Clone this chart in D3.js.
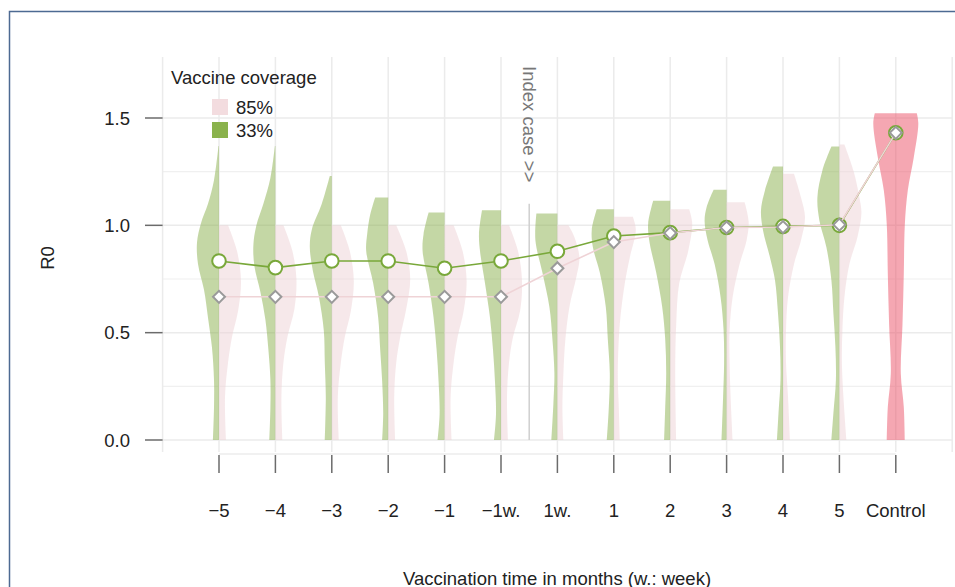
<!DOCTYPE html>
<html>
<head>
<meta charset="utf-8">
<script src="https://cdn.jsdelivr.net/npm/d3@7"></script>
<style>
  html, body { margin: 0; padding: 0; background: #fff; }
  svg text { font-family: "Liberation Sans", Arial, Helvetica, sans-serif; }
</style>
</head>
<body>
<svg id="chart" width="955" height="587"></svg>
<script>
// ---------------- DATA ----------------
const categories = ["\u22125","\u22124","\u22123","\u22122","\u22121","\u22121w.","1w.","1","2","3","4","5","Control"];
const seriesNames = ["85%", "33%"];
const mean33 = [0.834, 0.803, 0.834, 0.834, 0.800, 0.834, 0.879, 0.950, 0.966, 0.990, 0.995, 1.000, 1.431];
const mean85 = [0.667, 0.667, 0.667, 0.667, 0.667, 0.667, 0.800, 0.922, 0.964, 0.990, 0.992, 1.003, 1.431];
const yTicks = [0, 0.5, 1.0, 1.5];
const yMinor = [0.25, 0.75, 1.25];

// violin profiles: [R0, relative density] from top to bottom
const violin33 = [
  [[1.37,0.5],[1.21,5],[1.10,11],[1.01,18],[0.92,22],[0.82,21],[0.70,15],[0.57,11],[0.43,7],[0.28,5],[0.15,5],[0,6]],
  [[1.37,0.5],[1.22,5],[1.10,12],[1.00,19],[0.91,22],[0.81,21],[0.69,15],[0.56,10],[0.42,7],[0.28,5],[0.15,5],[0,6]],
  [[1.23,2],[1.10,10],[0.98,20],[0.90,22],[0.79,19],[0.67,13],[0.51,8],[0.36,7],[0.20,6],[0,7]],
  [[1.13,13],[1.05,18],[0.96,21],[0.88,22],[0.73,15],[0.57,10],[0.42,8],[0.27,6],[0.12,5],[0,6]],
  [[1.06,16],[0.96,21],[0.88,22],[0.73,16],[0.57,11],[0.42,8],[0.27,6],[0.12,5],[0,7]],
  [[1.07,19],[0.96,22],[0.88,21],[0.73,16],[0.57,11],[0.42,8],[0.27,6],[0.12,5],[0,7]],
  [[1.055,21],[0.93,22],[0.78,15],[0.62,8],[0.47,5],[0.31,3],[0.17,4],[0,6]],
  [[1.075,17],[0.98,22],[0.90,21],[0.78,14],[0.62,8],[0.47,6],[0.31,4],[0.15,5],[0,7]],
  [[1.115,17],[1.01,22],[0.93,21],[0.78,14],[0.62,8],[0.47,5],[0.31,4],[0.15,5],[0,6]],
  [[1.166,13],[1.084,20],[1.02,22],[0.93,19],[0.82,12],[0.665,6],[0.51,3],[0.36,2.5],[0.2,3.5],[0,5]],
  [[1.274,10],[1.163,18],[1.07,22],[0.977,20],[0.85,13],[0.744,8],[0.59,5],[0.433,3],[0.28,2.5],[0.125,4.5],[0,6]],
  [[1.367,8],[1.256,17],[1.13,22],[1.023,20],[0.898,13],[0.744,8],[0.59,6],[0.433,4],[0.28,3.5],[0.125,6],[0,8]]
];
const violin85 = [
  [[1.0,9],[0.88,18],[0.74,22],[0.60,19],[0.48,13],[0.36,9],[0.20,6],[0,7]],
  [[1.0,8],[0.88,17],[0.75,21],[0.61,19],[0.48,12],[0.36,8],[0.20,6],[0,7]],
  [[1.0,9],[0.88,18],[0.74,22],[0.60,19],[0.48,13],[0.36,9],[0.20,6],[0,7]],
  [[1.0,8],[0.88,18],[0.75,22],[0.61,18],[0.48,12],[0.36,8],[0.20,6],[0,7]],
  [[1.0,9],[0.88,18],[0.74,22],[0.60,19],[0.48,13],[0.36,9],[0.20,6],[0,7]],
  [[1.0,8],[0.88,17],[0.74,21],[0.60,19],[0.48,12],[0.36,8],[0.20,6],[0,7]],
  [[1.0,11],[0.945,17],[0.85,22],[0.76,19],[0.62,12],[0.47,8],[0.31,6],[0.15,5],[0,6]],
  [[1.04,19],[0.98,22],[0.85,16],[0.73,11],[0.54,6],[0.31,4],[0.15,5],[0,6]],
  [[1.075,19],[1.01,22],[0.88,18],[0.73,9],[0.54,6],[0.31,5],[0,6]],
  [[1.108,18],[1.02,22],[0.93,20],[0.82,13],[0.665,6],[0.51,3],[0.36,3],[0.2,4],[0,6]],
  [[1.24,11],[1.13,18],[1.037,22],[0.93,18],[0.82,11],[0.665,5],[0.51,3],[0.36,3],[0.2,5],[0,7]],
  [[1.377,5],[1.256,14],[1.13,20],[1.056,22],[0.945,18],[0.82,10],[0.665,5],[0.51,3],[0.36,2.5],[0.2,4],[0,7]]
];
const violinControl = [[1.522,21],[1.475,22.5],[1.317,18],[1.163,12],[1.0,9],[0.776,8],[0.54,6.7],[0.31,5],[0.153,8],[0,9]];

const indexCase = { label: "Index case >>", top: 1.10 };

// ---------------- LAYOUT ----------------
const svg = d3.select("#chart");
const panel = { left: 162.6, right: 952.2, top: 57, bottom: 452 };
const FS = 18.5;

const x = d3.scalePoint().domain(categories).range([panel.left, panel.right]).padding(1);
const y = d3.scaleLinear().domain([0, 1.5]).range([440, 118]);
const w = d3.scaleLinear().domain([0, 22]).range([0, 22]);

const col = {
  green: "#79a83a", greenFill: "#89b04b", pinkFill: "#eed1d5",
  pinkLine: "#efd3d6", control: "#eb4f65", grid: "#ebebeb", gridMinor: "#f0f0f0"
};

// frame
svg.append("rect").attr("x", 9.5).attr("y", 11.5).attr("width", 1000).attr("height", 700)
  .attr("fill", "none").attr("stroke", "#4d6a92").attr("stroke-width", 1.5);

// grid
const g = svg.append("g");
g.selectAll(".hmin").data(yMinor).join("line")
  .attr("x1", panel.left).attr("x2", panel.right)
  .attr("y1", d => y(d)).attr("y2", d => y(d))
  .attr("stroke", col.gridMinor).attr("stroke-width", 1.2);
g.selectAll(".hmaj").data(yTicks).join("line")
  .attr("x1", panel.left).attr("x2", panel.right)
  .attr("y1", d => y(d)).attr("y2", d => y(d))
  .attr("stroke", col.grid).attr("stroke-width", 1.5);
const vPos = [panel.left].concat(categories.map(c => x(c))).concat([panel.right]);
g.selectAll(".v").data(vPos).join("line")
  .attr("x1", d => d).attr("x2", d => d)
  .attr("y1", panel.top).attr("y2", panel.bottom)
  .attr("stroke", col.grid).attr("stroke-width", 1.5);

// index case marker
const icx = (x(categories[5]) + x(categories[6])) / 2;
svg.append("line").attr("x1", icx).attr("x2", icx)
  .attr("y1", y(indexCase.top)).attr("y2", y(0))
  .attr("stroke", "#cfcfcf").attr("stroke-width", 1.5);
svg.append("text")
  .attr("transform", `translate(${icx - 1},66) rotate(90)`)
  .attr("dominant-baseline", "middle")
  .attr("font-size", FS).attr("fill", "#777")
  .text(indexCase.label);

// violins
const curve = d3.curveCatmullRom.alpha(0.5);
function halfArea(cx, dir) {
  return d3.area().curve(curve)
    .y(d => y(d[0]))
    .x0(cx)
    .x1(d => cx + dir * w(d[1]));
}
const vg = svg.append("g");
violin33.forEach((prof, i) => {
  const cx = x(categories[i]);
  vg.append("path").attr("d", halfArea(cx, -1)(prof))
    .attr("fill", col.greenFill).attr("fill-opacity", 0.5);
});
violin85.forEach((prof, i) => {
  const cx = x(categories[i]);
  vg.append("path").attr("d", halfArea(cx, 1)(prof))
    .attr("fill", col.pinkFill).attr("fill-opacity", 0.5);
});
{
  const cx = x("Control");
  const area = d3.area().curve(curve)
    .y(d => y(d[0]))
    .x0(d => cx - w(d[1]))
    .x1(d => cx + w(d[1]));
  vg.append("path").attr("d", area(violinControl))
    .attr("fill", col.control).attr("fill-opacity", 0.5);
}

// mean lines
const line = d3.line().x((d, i) => x(categories[i])).y(d => y(d));
svg.append("path").attr("d", line(mean33)).attr("fill", "none")
  .attr("stroke", col.green).attr("stroke-width", 1.6);
svg.selectAll(".c33").data(mean33).join("circle")
  .attr("cx", (d, i) => x(categories[i])).attr("cy", d => y(d)).attr("r", 6.8)
  .attr("fill", "#fff").attr("stroke", col.green).attr("stroke-width", 2);

svg.append("path").attr("d", line(mean85)).attr("fill", "none")
  .attr("stroke", col.pinkLine).attr("stroke-width", 1.6);
const diamond = d3.symbol().type(d3.symbolSquare).size(72);
svg.selectAll(".d85").data(mean85).join("path")
  .attr("d", diamond())
  .attr("transform", (d, i) => `translate(${x(categories[i])},${y(d)}) rotate(45)`)
  .attr("fill", "#fff").attr("stroke", "#9a9a9a").attr("stroke-width", 2);

// y axis
const ya = svg.append("g");
ya.selectAll("line").data(yTicks).join("line")
  .attr("x1", 145).attr("x2", panel.left).attr("y1", d => y(d)).attr("y2", d => y(d))
  .attr("stroke", "#6b6b6b").attr("stroke-width", 1.5);
ya.selectAll("text").data(yTicks).join("text")
  .attr("x", 130).attr("y", d => y(d)).attr("text-anchor", "end")
  .attr("dominant-baseline", "central").attr("font-size", FS).attr("fill", "#222")
  .text(d => d3.format(".1f")(d));
svg.append("text").attr("transform", "translate(47,258) rotate(-90)")
  .attr("text-anchor", "middle").attr("dominant-baseline", "central")
  .attr("font-size", FS).attr("fill", "#222").text("R0");

// x axis
const xa = svg.append("g");
xa.append("line").attr("x1", x(categories[0])).attr("x2", x("Control"))
  .attr("y1", 454).attr("y2", 454).attr("stroke", "#ececec").attr("stroke-width", 1.5);
xa.selectAll(".xt").data(categories).join("line")
  .attr("x1", d => x(d)).attr("x2", d => x(d)).attr("y1", 455).attr("y2", 473)
  .attr("stroke", "#6b6b6b").attr("stroke-width", 1.5);
xa.selectAll("text").data(categories).join("text")
  .attr("x", d => x(d)).attr("y", 510).attr("text-anchor", "middle")
  .attr("dominant-baseline", "central").attr("font-size", FS).attr("fill", "#222")
  .text(d => d);
svg.append("text").attr("x", 557).attr("y", 578).attr("text-anchor", "middle")
  .attr("dominant-baseline", "central").attr("font-size", FS).attr("fill", "#222")
  .text("Vaccination time in months (w.: week)");

// legend
const lg = svg.append("g");
lg.append("text").attr("x", 171).attr("y", 77).attr("dominant-baseline", "central")
  .attr("font-size", FS).attr("fill", "#222").text("Vaccine coverage");
const legendColors = ["#f3dcdf", "#8ab24c"];
seriesNames.forEach((s, i) => {
  lg.append("rect").attr("x", 212).attr("y", 99 + i * 23).attr("width", 16).attr("height", 16)
    .attr("fill", legendColors[i]);
  lg.append("text").attr("x", 236).attr("y", 107.5 + i * 23).attr("dominant-baseline", "central")
    .attr("font-size", FS).attr("fill", "#222").text(s);
});
</script>
</body>
</html>
